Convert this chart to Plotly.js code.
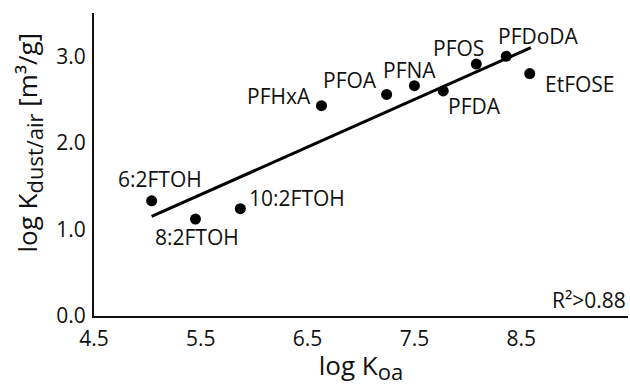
<!DOCTYPE html>
<html>
<head>
<meta charset="utf-8">
<script src="https://cdn.plot.ly/plotly-3.0.1.min.js"></script>
<style>html,body{margin:0;padding:0;background:#fff;}#chart{width:630px;height:386px;}</style>
</head>
<body>
<div id="chart"></div>
<script>
// Data
var compounds = ["6:2FTOH", "8:2FTOH", "10:2FTOH", "PFHxA", "PFOA", "PFNA", "PFDA", "PFOS", "PFDoDA", "EtFOSE"];
var logKoa = [5.04, 5.45, 5.87, 6.63, 7.24, 7.50, 7.77, 8.08, 8.36, 8.58];
var logKdustAir = [1.33, 1.12, 1.24, 2.43, 2.56, 2.66, 2.60, 2.91, 3.00, 2.80];
var fitX = [5.04, 8.59];
var fitY = [1.15, 3.10];
var xTicks = [4.5, 5.5, 6.5, 7.5, 8.5];
var yTicks = [0, 1, 2, 3];
var yTickLabels = ["0.0", "1.0", "2.0", "3.0"];
var r2Text = "R²>0.88";

// Label placement (style, not data): [xshift, yshift, xanchor]
var labelPlacement = [
  [8, 22, "center"], [2, -18, "center"], [7, 11, "left"], [-8, 10, "right"],
  [-8, 14, "right"], [-5, 16, "center"], [3, -15, "left"], [-18, 16, "center"],
  [32, 20, "center"], [13, -10, "left"]
];

var FONT = "Open Sans, Noto Sans, sans-serif";
var TXT = "#111";

var traces = [
  {x: fitX, y: fitY, mode: "lines", line: {color: "#000", width: 3}, hoverinfo: "skip"},
  {x: logKoa, y: logKdustAir, mode: "markers", marker: {color: "#000", size: 11}, text: compounds}
];

var annotations = compounds.map(function (c, i) {
  var p = labelPlacement[i];
  return {x: logKoa[i], y: logKdustAir[i], xref: "x", yref: "y", text: c, showarrow: false,
    xshift: p[0], yshift: p[1], xanchor: p[2], yanchor: "middle",
    font: {family: FONT, size: 21, color: TXT}};
});
annotations.push({xref: "paper", yref: "paper", x: 1, y: 0.053, xanchor: "right", yanchor: "middle",
  text: r2Text, showarrow: false, font: {family: FONT, size: 21, color: TXT}});
annotations.push({xref: "paper", yref: "paper", x: -0.122, y: 0.572, xanchor: "center", yanchor: "middle",
  textangle: -90, text: "log K<sub><span style='font-size:22px'>dust/air</span></sub> [m³/g]", showarrow: false,
  font: {family: FONT, size: 26, color: TXT}});

var layout = {
  width: 630, height: 386,
  margin: {l: 94, r: 2, t: 13, b: 70},
  paper_bgcolor: "#fff", plot_bgcolor: "#fff",
  showlegend: false,
  font: {family: FONT, color: TXT},
  xaxis: {
    range: [4.5, 9.5], tickvals: xTicks, ticktext: xTicks.map(function(v){return v.toFixed(1);}),
    showgrid: false, zeroline: false, showline: true, linecolor: "#111", linewidth: 2,
    ticks: "outside", ticklen: 3, tickcolor: "rgba(0,0,0,0)",
    tickfont: {family: FONT, size: 21, color: TXT},
    title: {text: "log K<sub><span style='font-size:22px'>oa</span></sub>", font: {family: FONT, size: 26, color: TXT}, standoff: 1}
  },
  yaxis: {
    range: [0, 3.5], tickvals: yTicks, ticktext: yTickLabels,
    showgrid: false, zeroline: false, showline: true, linecolor: "#111", linewidth: 2,
    ticks: "outside", ticklen: 2, tickcolor: "rgba(0,0,0,0)",
    tickfont: {family: FONT, size: 21, color: TXT}
  },
  annotations: annotations
};

Plotly.newPlot("chart", traces, layout, {displayModeBar: false, staticPlot: true});
</script>
</body>
</html>
